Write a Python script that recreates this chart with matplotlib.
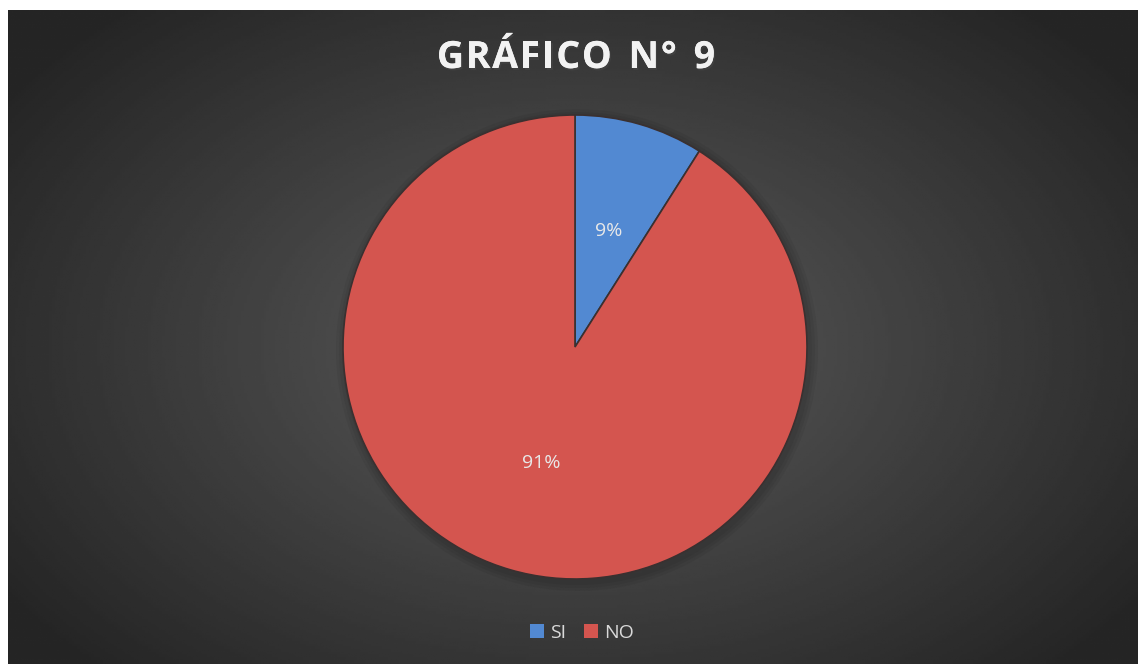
import numpy as np
import matplotlib.pyplot as plt
import matplotlib.patheffects as pe
from matplotlib.patches import Patch

categories = ['SI', 'NO']
values = [9, 91]
colors = ['#5289D2', '#D4554F']
title = 'GRÁFICO N° 9'

W, H = 1138, 664
fig = plt.figure(figsize=(W / 100, H / 100), dpi=100)
fig.patch.set_facecolor('white')

# chart area (dark radial gradient), leaves a small white margin top/left
left, top = 8, 10
ax = fig.add_axes([left / W, 0, (W - left) / W, (H - top) / H])
ax.set_xlim(left, W)
ax.set_ylim(0, H - top)
ax.set_aspect('equal')
ax.axis('off')

gx = np.linspace(left, W, 400)
gy = np.linspace(0, H - top, 240)
X, Y = np.meshgrid(gx, gy)
cx, cy = 575, H - 347
d = np.sqrt(((X - cx) / 640) ** 2 + ((Y - cy) / 420) ** 2)
shade = np.clip(0.36 - 0.20 * d, 0.145, 0.37)
ax.imshow(shade, extent=(left, W, 0, H - top), origin='lower', cmap='gray',
          vmin=0, vmax=1, zorder=0, aspect='auto')

# soft shadow under the pie
for i, a in enumerate([0.05, 0.05, 0.05]):
    ax.pie(values, center=(cx + 2, cy - 3), radius=232 + 3 * (3 - i),
           colors=['black'] * 2, startangle=90, counterclock=False,
           wedgeprops=dict(alpha=a, linewidth=0))

wedges, _, autotexts = ax.pie(
    values, center=(cx, cy), radius=232, colors=colors, startangle=90,
    counterclock=False, autopct='%1.0f%%', pctdistance=0.52,
    wedgeprops=dict(edgecolor='#3a3030', linewidth=1.2),
    textprops=dict(color='#E8E8E8', fontsize=14, family='Open Sans'))
for w in wedges:
    w.set_zorder(3)
for t in autotexts:
    t.set_zorder(4)
ax.set_xlim(left, W)
ax.set_ylim(0, H - top)

# title with letter spacing, laid out character by character
renderer = fig.canvas.get_renderer()
spacing = 1.7
tstyle = dict(color='#F2F2F2', fontsize=27, fontweight='bold', family='Open Sans',
              va='center', ha='left',
              path_effects=[pe.withSimplePatchShadow(offset=(1, -1.5), alpha=0.5), pe.Normal()])
widths = []
for ch in title:
    t = fig.text(0, 0, ch if ch != ' ' else 'n', **tstyle)
    bb = t.get_window_extent(renderer)
    widths.append(bb.width * (0.55 if ch == ' ' else 1))
    t.remove()
total = sum(widths) + spacing * (len(title) - 1)
x = 576 - total / 2
for ch, w in zip(title, widths):
    if ch != ' ':
        fig.text(x / W, 1 - 58 / H, ch, **tstyle)
    x += w + spacing

handles = [Patch(facecolor=c, edgecolor='none') for c in colors]
leg = fig.legend(handles, categories, loc='center', bbox_to_anchor=(582 / W, 1 - 633 / H),
                 ncol=2, frameon=False, handlelength=0.75, handleheight=0.75,
                 handletextpad=0.3, columnspacing=0.9, prop=dict(family='Open Sans', size=14))
for t in leg.get_texts():
    t.set_color('#D9D9D9')

fig.savefig('out.png', dpi=100, facecolor=fig.get_facecolor())
